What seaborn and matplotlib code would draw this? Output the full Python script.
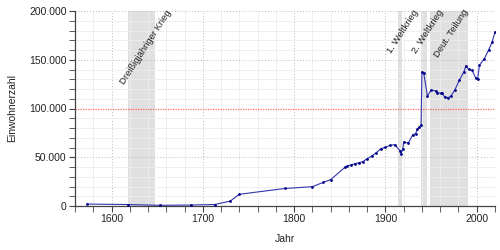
import matplotlib
matplotlib.use("Agg")
import matplotlib.pyplot as plt
import matplotlib.ticker as mticker
import seaborn as sns
import pandas as pd

years = [1573, 1618, 1653, 1687, 1713, 1730, 1740, 1790, 1820, 1832, 1840,
         1856, 1858, 1862, 1867, 1871, 1875, 1880, 1885, 1890, 1895, 1900,
         1905, 1910, 1916, 1917, 1919, 1920, 1925, 1930, 1933, 1935, 1937,
         1939, 1940, 1942, 1946, 1950, 1955, 1957, 1961, 1962, 1965, 1969,
         1972, 1976, 1981, 1986, 1988, 1991, 1995, 1999, 2001, 2003, 2008,
         2013, 2017, 2020]
population = [2000, 1500, 700, 1000, 1500, 5000, 12000, 18000, 19800, 24300, 27000,
              40000, 41000, 42000, 43500, 44400, 45400, 48500, 51300, 54700, 58800, 60200,
              62200, 62900, 56700, 53300, 58500, 65600, 64600, 73100, 74200, 79000, 81000,
              82700, 137700, 136000, 112800, 119000, 118000, 116200, 115500, 115800, 111500, 111200,
              113000, 119000, 129000, 137700, 143600, 140200, 139000, 131000, 130300, 144600, 150400,
              160000, 168500, 178800]

periods = [("Dreißigjähriger Krieg", 1618, 1648),
           ("1. Weltkrieg", 1914, 1918),
           ("2. Weltkrieg", 1939, 1945),
           ("Deut. Teilung", 1949, 1990)]
label_end_years = [1659, 1930, 1957, 1985]
reference_level = 100000

df = pd.DataFrame({"Jahr": years, "Einwohnerzahl": population})

sns.set_theme(style="white")
plt.rcParams["font.family"] = ["Liberation Sans", "DejaVu Sans"]

fig = plt.figure(figsize=(5, 2.5), dpi=100)
ax = fig.add_axes([0.15, 0.176, 0.84, 0.78])

for label, s, e in periods:
    ax.axvspan(s, e, color="#e0e0e0", zorder=0, lw=0)

ax.set_xlim(1560, 2020)
ax.set_ylim(0, 200000)
ax.xaxis.set_major_locator(mticker.MultipleLocator(100))
ax.xaxis.set_minor_locator(mticker.MultipleLocator(20))
ax.yaxis.set_major_locator(mticker.MultipleLocator(50000))
ax.yaxis.set_minor_locator(mticker.MultipleLocator(10000))
ax.yaxis.set_major_formatter(mticker.FuncFormatter(lambda v, p: f"{int(v):,}".replace(",", ".")))

ax.grid(which="minor", color="#ececec", lw=0.6, zorder=0.5)
ax.grid(axis="x", which="major", color="#bbbbbb", lw=0.7, ls=(0, (1, 2)), zorder=0.6)
ax.set_axisbelow(True)
for yv in ax.get_yticks():
    if 0 < yv <= 200000 and yv != reference_level:
        ax.axhline(yv, color="#bbbbbb", lw=0.7, ls=(0, (1, 2)), zorder=0.6, clip_on=False)

ax.axhline(reference_level, color="#ff3b30", lw=0.9, ls=(0, (1, 1)), zorder=2, alpha=0.75)

sns.lineplot(data=df, x="Jahr", y="Einwohnerzahl", ax=ax, color="#3333aa",
             lw=0.8, marker="o", markersize=2, markeredgewidth=0,
             markerfacecolor="#000088", zorder=3)

for (label, s, e), xe in zip(periods, label_end_years):
    ax.text(xe, 203000, label, rotation=57, ha="right", va="top",
            fontsize=6.8, color="#222222", rotation_mode="anchor", clip_on=False)

for side in ["top", "right"]:
    ax.spines[side].set_visible(False)
for side in ["left", "bottom"]:
    ax.spines[side].set_color("#444444")
    ax.spines[side].set_linewidth(0.9)

ax.tick_params(which="both", direction="out", color="#444444", labelsize=7.5,
               labelcolor="#222222", left=True, bottom=True, pad=2)
ax.tick_params(which="major", length=4, width=0.8)
ax.tick_params(which="minor", length=4, width=0.6)

ax.set_xlabel("Jahr", fontsize=7.5, color="#222222", labelpad=7)
ax.set_ylabel("Einwohnerzahl", fontsize=7.5, color="#222222", labelpad=9)

fig.savefig("out.png", dpi=100)
